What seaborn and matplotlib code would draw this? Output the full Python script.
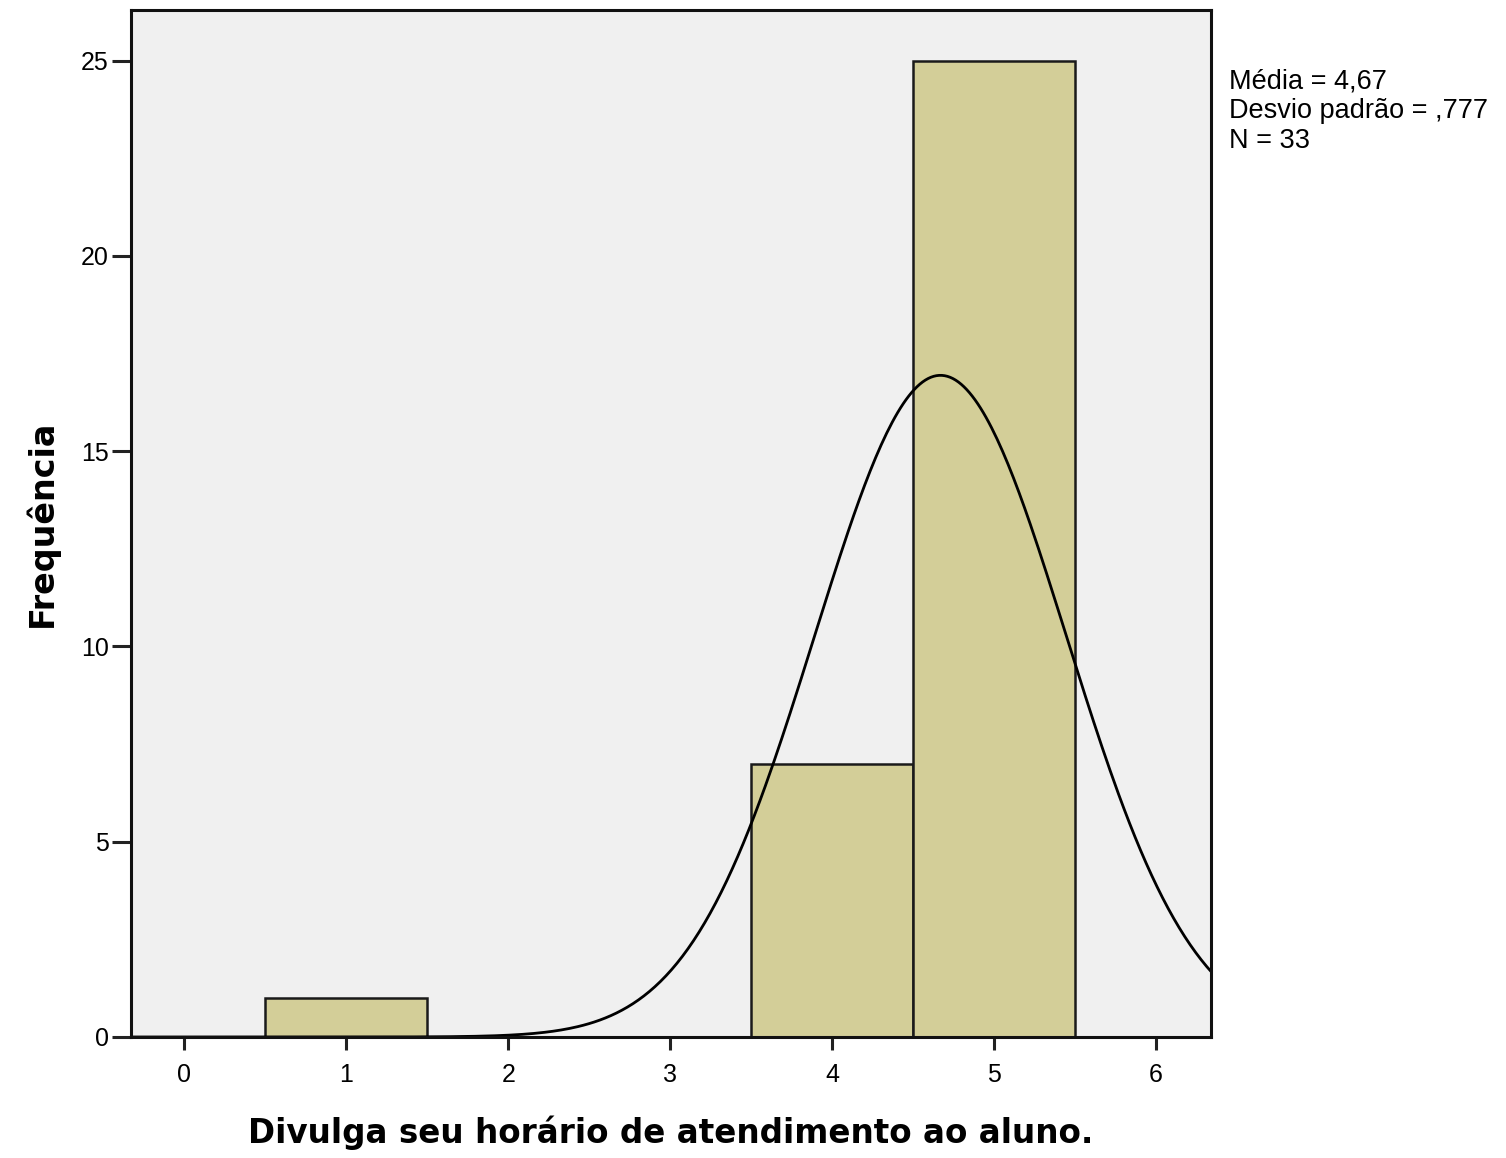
import numpy as np
import pandas as pd
import matplotlib
matplotlib.use('Agg')
import matplotlib.pyplot as plt
import seaborn as sns

valores = [1, 4, 5]
frequencias = [1, 7, 25]
media = 4.67
desvio = 0.777
n_total = 33
anotacoes = ['Média = 4,67', 'Desvio padrão = ,777', 'N = 33']
ticks_x = [0, 1, 2, 3, 4, 5, 6]
ticks_y = [0, 5, 10, 15, 20, 25]

sns.set_style('white')
plt.rcParams['font.family'] = ['Liberation Sans', 'DejaVu Sans']
plt.rcParams['text.color'] = 'black'
plt.rcParams['axes.labelcolor'] = 'black'

df = pd.DataFrame({'valor': valores, 'freq': frequencias})

fig = plt.figure(figsize=(15.06, 11.58), dpi=100)
ax = fig.add_axes([0.087, 0.1045, 0.717, 0.8869])
ax.set_facecolor('#F0F0F0')

sns.histplot(data=df, x='valor', weights='freq', binwidth=1, binrange=(0.5, 5.5),
             color='#D3CE98', edgecolor='#1a1a1a', linewidth=1.8, alpha=1, ax=ax)

# Curva normal ajustada (escala de frequência)
xs = np.linspace(-0.4, 6.4, 400)
ys = n_total * 1 / (desvio * np.sqrt(2 * np.pi)) * np.exp(-0.5 * ((xs - media) / desvio) ** 2)
sns.lineplot(x=xs, y=ys, color='black', linewidth=2, ax=ax)

ax.set_xlim(-0.33, 6.34)
ax.set_ylim(0, 26.3)
ax.set_xticks(ticks_x)
ax.set_yticks(ticks_y)
ax.tick_params(axis='both', labelsize=18, width=2.2, color='#222222',
               direction='out', bottom=True, left=True, labelcolor='black')
ax.tick_params(axis='y', length=14, pad=2)
ax.tick_params(axis='x', length=9, pad=10)
for s in ax.spines.values():
    s.set_linewidth(2.2)
    s.set_color('#111111')

ax.set_xlabel('Divulga seu horário de atendimento ao aluno.', fontsize=23.5,
              fontweight='bold', family=['DejaVu Sans'], labelpad=20)
ax.set_ylabel('Frequência', fontsize=24, fontweight='bold',
              family=['DejaVu Sans'], labelpad=16)

for i, t in enumerate(anotacoes):
    fig.text(0.816, 0.930 - i * 0.026, t, fontsize=19.5, va='center', ha='left')

plt.savefig('out.png', dpi=100)
